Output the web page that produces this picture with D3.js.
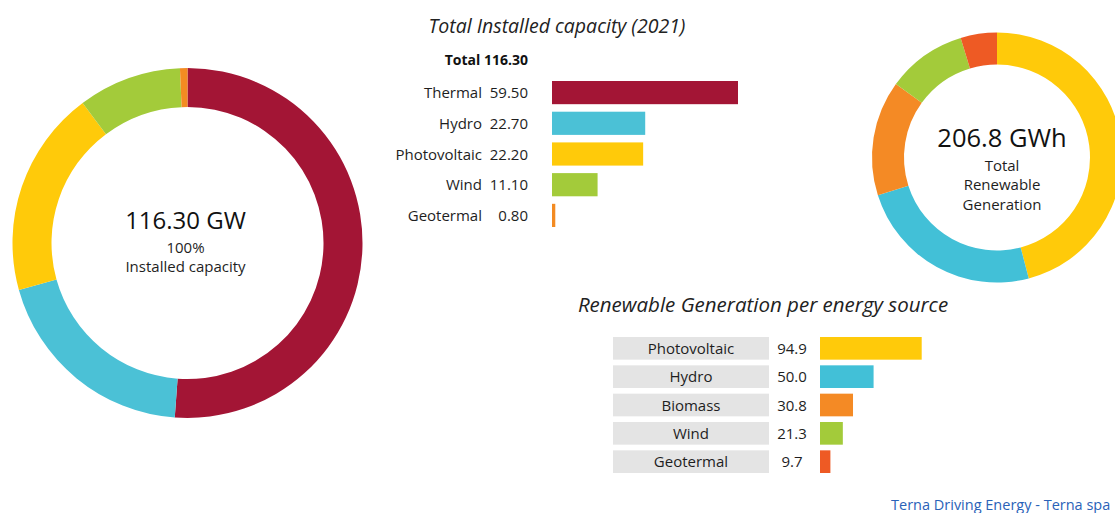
<!DOCTYPE html>
<html>
<head>
<meta charset="utf-8">
<script src="https://cdn.jsdelivr.net/npm/d3@7/dist/d3.min.js"></script>
<style>
  html, body { margin: 0; padding: 0; background: #fff; }
  svg { display: block; font-family: "Open Sans", "DejaVu Sans", sans-serif; }
</style>
</head>
<body>
<svg id="chart" width="1115" height="513"></svg>
<script>
// ---- Data ----
const capCategories = ["Thermal", "Hydro", "Photovoltaic", "Wind", "Geotermal"];
const capValues = [59.50, 22.70, 22.20, 11.10, 0.80];
const capColors = ["#A31535", "#4BC1D6", "#FFCA0A", "#A3CB3A", "#F38B22"];
const capTotal = 116.30;
const capBarMax = 45.3; // bar scale is capped; larger values are clamped

const renCategories = ["Photovoltaic", "Hydro", "Biomass", "Wind", "Geotermal"];
const renValues = [94.9, 50.0, 30.8, 21.3, 9.7];
const renColors = ["#FFCA0A", "#42C0D7", "#F48A25", "#A3CB3A", "#EE5A24"];
const renTotal = 206.8;
const renCenterLines = ["Total", "Renewable", "Generation"];

const svg = d3.select("#chart");
const textColor = "#1e1e1e";

// ---- Left donut: installed capacity ----
{
  const g = svg.append("g").attr("transform", "translate(187.5,243)");
  const pie = d3.pie().sort(null).value(d => d.v);
  const arc = d3.arc().innerRadius(136).outerRadius(175);
  const data = capCategories.map((c, i) => ({ c, v: capValues[i], col: capColors[i] }));
  g.selectAll("path").data(pie(data)).join("path")
    .attr("d", arc).attr("fill", d => d.data.col);
  g.append("text").attr("x", -2).attr("y", -14).attr("text-anchor", "middle")
    .attr("font-size", 24).attr("fill", "#111")
    .text(capTotal.toFixed(2) + " GW");
  g.append("text").attr("x", -2).attr("y", 10).attr("text-anchor", "middle")
    .attr("font-size", 15).attr("fill", textColor).text("100%");
  g.append("text").attr("x", -2).attr("y", 29).attr("text-anchor", "middle")
    .attr("font-size", 15).attr("fill", textColor).text("Installed capacity");
}

// ---- Top bar chart: installed capacity ----
{
  svg.append("text").attr("x", 557).attr("y", 33).attr("text-anchor", "middle")
    .attr("font-size", 19.5).attr("font-style", "italic").attr("fill", "#222")
    .text("Total Installed capacity (2021)");
  svg.append("text").attr("x", 528).attr("y", 65).attr("text-anchor", "end")
    .attr("font-size", 14).attr("font-weight", "bold").attr("fill", "#111")
    .text("Total " + capTotal.toFixed(2));

  const x = d3.scaleLinear().domain([0, capBarMax]).range([0, 186]).clamp(true);
  const y = d3.scaleBand().domain(capCategories).range([81, 227]).paddingInner(0.245).paddingOuter(0);
  const x0 = 552;
  const rows = svg.append("g").selectAll("g").data(capCategories).join("g");
  rows.append("rect")
    .attr("x", x0).attr("y", d => y(d))
    .attr("width", (d, i) => x(capValues[i])).attr("height", y.bandwidth())
    .attr("fill", (d, i) => capColors[i]);
  rows.append("text").attr("x", 482).attr("y", d => y(d) + y.bandwidth() / 2 + 5.5)
    .attr("text-anchor", "end").attr("font-size", 15).attr("fill", textColor).text(d => d);
  rows.append("text").attr("x", 528).attr("y", d => y(d) + y.bandwidth() / 2 + 5.5)
    .attr("text-anchor", "end").attr("font-size", 15).attr("fill", textColor)
    .text((d, i) => capValues[i].toFixed(2));
}

// ---- Right donut: renewable generation ----
{
  const g = svg.append("g").attr("transform", "translate(997,157.5)");
  const pie = d3.pie().sort(null).value(d => d.v);
  const arc = d3.arc().innerRadius(93).outerRadius(125);
  const data = renCategories.map((c, i) => ({ c, v: renValues[i], col: renColors[i] }));
  g.selectAll("path").data(pie(data)).join("path")
    .attr("d", arc).attr("fill", d => d.data.col);
  g.append("text").attr("x", 5).attr("y", -11).attr("text-anchor", "middle")
    .attr("font-size", 25.5).attr("fill", "#111").text(renTotal.toFixed(1) + " GWh");
  renCenterLines.forEach((t, i) => {
    g.append("text").attr("x", 5).attr("y", 13 + i * 19.5).attr("text-anchor", "middle")
      .attr("font-size", 15).attr("fill", textColor).text(t);
  });
}

// ---- Bottom bar chart: renewable generation per source ----
{
  svg.append("text").attr("x", 763).attr("y", 312).attr("text-anchor", "middle")
    .attr("font-size", 20.5).attr("font-style", "italic").attr("fill", "#222")
    .text("Renewable Generation per energy source");

  const x = d3.scaleLinear().domain([0, 94.9]).range([0, 101.7]);
  const y = d3.scaleBand().domain(renCategories).range([337, 473]).paddingInner(0.2).paddingOuter(0);
  const x0 = 820;
  const rows = svg.append("g").selectAll("g").data(renCategories).join("g");
  rows.append("rect")
    .attr("x", 613).attr("y", d => y(d)).attr("width", 156).attr("height", y.bandwidth())
    .attr("fill", "#E4E4E4");
  rows.append("text").attr("x", 691).attr("y", d => y(d) + y.bandwidth() / 2 + 5.5)
    .attr("text-anchor", "middle").attr("font-size", 15).attr("fill", textColor).text(d => d);
  rows.append("text").attr("x", 792).attr("y", d => y(d) + y.bandwidth() / 2 + 5.5)
    .attr("text-anchor", "middle").attr("font-size", 15).attr("fill", textColor)
    .text((d, i) => renValues[i].toFixed(1));
  rows.append("rect")
    .attr("x", x0).attr("y", d => y(d))
    .attr("width", (d, i) => x(renValues[i])).attr("height", y.bandwidth())
    .attr("fill", (d, i) => renColors[i]);
}

// ---- Footer ----
svg.append("text").attr("x", 891).attr("y", 510).attr("font-size", 14.5)
  .attr("fill", "#2A62B8").text("Terna Driving Energy - Terna spa");
</script>
</body>
</html>
